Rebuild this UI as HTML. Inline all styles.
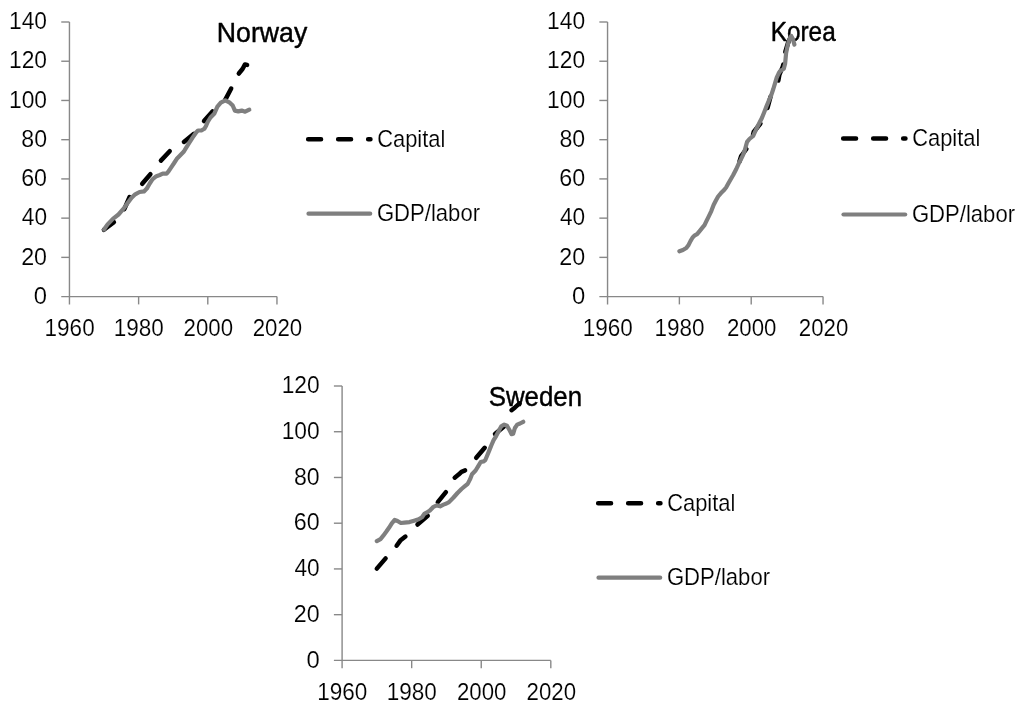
<!DOCTYPE html><html><head><meta charset="utf-8"><style>html,body{margin:0;padding:0;background:#fff;}svg{display:block;filter:grayscale(1)}</style></head><body>
<svg width="1024" height="706" viewBox="0 0 1024 706">
<rect width="1024" height="706" fill="#fff"/>
<g stroke="#888888" stroke-width="1.4" fill="none" stroke-linecap="butt">
<path d="M69.45,22.00V304.40"/>
<path d="M61.25,296.60H276.96"/>
<path d="M61.25,257.37H69.45"/>
<path d="M61.25,218.14H69.45"/>
<path d="M61.25,178.91H69.45"/>
<path d="M61.25,139.69H69.45"/>
<path d="M61.25,100.46H69.45"/>
<path d="M61.25,61.23H69.45"/>
<path d="M61.25,22.00H69.45"/>
<path d="M138.62,296.60V304.40"/>
<path d="M207.79,296.60V304.40"/>
<path d="M276.96,296.60V304.40"/>
</g>
<g font-family='"Liberation Sans", sans-serif' stroke="#fff" stroke-width="0.15" stroke-linejoin="round">
<text x="33.82" y="303.80" font-size="23.20" fill="#000000" textLength="13.26" lengthAdjust="spacingAndGlyphs">0</text>
<text x="21.18" y="264.57" font-size="23.20" fill="#000000" textLength="25.88" lengthAdjust="spacingAndGlyphs">20</text>
<text x="21.83" y="225.34" font-size="23.20" fill="#000000" textLength="25.21" lengthAdjust="spacingAndGlyphs">40</text>
<text x="21.17" y="186.11" font-size="23.20" fill="#000000" textLength="25.89" lengthAdjust="spacingAndGlyphs">60</text>
<text x="21.35" y="146.89" font-size="23.20" fill="#000000" textLength="25.71" lengthAdjust="spacingAndGlyphs">80</text>
<text x="9.01" y="107.66" font-size="23.20" fill="#000000" textLength="38.03" lengthAdjust="spacingAndGlyphs">100</text>
<text x="9.01" y="68.43" font-size="23.20" fill="#000000" textLength="38.03" lengthAdjust="spacingAndGlyphs">120</text>
<text x="9.01" y="29.20" font-size="23.20" fill="#000000" textLength="38.03" lengthAdjust="spacingAndGlyphs">140</text>
<text x="44.58" y="335.90" font-size="23.20" fill="#000000" textLength="50.09" lengthAdjust="spacingAndGlyphs">1960</text>
<text x="113.75" y="335.90" font-size="23.20" fill="#000000" textLength="50.09" lengthAdjust="spacingAndGlyphs">1980</text>
<text x="183.52" y="335.90" font-size="23.20" fill="#000000" textLength="49.49" lengthAdjust="spacingAndGlyphs">2000</text>
<text x="252.69" y="335.90" font-size="23.20" fill="#000000" textLength="49.49" lengthAdjust="spacingAndGlyphs">2020</text>
<text x="216.81" y="41.60" font-size="28.10" fill="#000" textLength="90.44" lengthAdjust="spacingAndGlyphs" stroke="#000" stroke-width="0.45">Norway</text>
<path d="M308.15,139.30H370.45" stroke="#000" stroke-width="4.5" stroke-linecap="round" stroke-dasharray="12.9 17.1" fill="none"/>
<path d="M308.50,213.70H370.20" stroke="#7f7f7f" stroke-width="4.2" stroke-linecap="round" fill="none"/>
<text x="377.19" y="146.60" font-size="23.90" fill="#000000" textLength="68.18" lengthAdjust="spacingAndGlyphs">Capital</text>
<text x="376.89" y="220.90" font-size="23.90" fill="#000000" textLength="103.18" lengthAdjust="spacingAndGlyphs">GDP/labor</text>
</g>
<g stroke="#000" stroke-width="4.5" stroke-linecap="round" stroke-linejoin="round" fill="none">
<polyline points="103.9,229.8 113.9,222.2"/>
<polyline points="124.3,209.2 129.6,197.0"/>
<polyline points="142.2,183.8 150.4,174.2"/>
<polyline points="160.9,160.6 169.7,151.2"/>
<polyline points="183.9,141.9 193.9,133.8"/>
<polyline points="204.0,121.1 212.5,111.4"/>
<polyline points="225.2,99.9 231.2,88.5"/>
<polyline points="238.8,73.5 242.5,69.0 245.0,64.4 247.1,64.9"/>
</g>
<polyline points="104.0,229.5 107.6,224.4 112.9,218.9 118.5,214.5 123.8,208.4 127.8,202.8 131.6,197.7 135.2,194.3 139.5,192.0 144.0,191.4 146.8,188.6 149.7,183.5 152.4,179.3 156.4,176.2 159.8,175.0 162.7,173.7 166.6,173.7 168.7,171.1 171.2,167.3 173.8,163.5 176.8,158.8 179.3,156.3 183.9,151.5 185.6,148.7 188.4,144.2 192.4,137.9 196.3,132.2 198.0,130.5 201.4,130.5 204.3,128.8 206.0,126.0 207.7,122.0 210.5,117.5 214.2,113.8 217.4,106.6 220.8,102.7 225.3,100.4 229.8,102.7 232.7,105.5 234.9,110.6 238.3,111.4 241.7,110.6 245.1,111.7 249.3,109.6" stroke="#7f7f7f" stroke-width="4.2" stroke-linecap="round" stroke-linejoin="round" fill="none"/>
<g stroke="#888888" stroke-width="1.4" fill="none" stroke-linecap="butt">
<path d="M607.55,22.00V304.40"/>
<path d="M599.35,296.60H823.04"/>
<path d="M599.35,257.37H607.55"/>
<path d="M599.35,218.14H607.55"/>
<path d="M599.35,178.91H607.55"/>
<path d="M599.35,139.69H607.55"/>
<path d="M599.35,100.46H607.55"/>
<path d="M599.35,61.23H607.55"/>
<path d="M599.35,22.00H607.55"/>
<path d="M679.38,296.60V304.40"/>
<path d="M751.21,296.60V304.40"/>
<path d="M823.04,296.60V304.40"/>
</g>
<g font-family='"Liberation Sans", sans-serif' stroke="#fff" stroke-width="0.15" stroke-linejoin="round">
<text x="571.92" y="303.80" font-size="23.20" fill="#000000" textLength="13.26" lengthAdjust="spacingAndGlyphs">0</text>
<text x="559.28" y="264.57" font-size="23.20" fill="#000000" textLength="25.88" lengthAdjust="spacingAndGlyphs">20</text>
<text x="559.93" y="225.34" font-size="23.20" fill="#000000" textLength="25.21" lengthAdjust="spacingAndGlyphs">40</text>
<text x="559.27" y="186.11" font-size="23.20" fill="#000000" textLength="25.89" lengthAdjust="spacingAndGlyphs">60</text>
<text x="559.45" y="146.89" font-size="23.20" fill="#000000" textLength="25.71" lengthAdjust="spacingAndGlyphs">80</text>
<text x="547.11" y="107.66" font-size="23.20" fill="#000000" textLength="38.03" lengthAdjust="spacingAndGlyphs">100</text>
<text x="547.11" y="68.43" font-size="23.20" fill="#000000" textLength="38.03" lengthAdjust="spacingAndGlyphs">120</text>
<text x="547.11" y="29.20" font-size="23.20" fill="#000000" textLength="38.03" lengthAdjust="spacingAndGlyphs">140</text>
<text x="582.68" y="335.90" font-size="23.20" fill="#000000" textLength="50.09" lengthAdjust="spacingAndGlyphs">1960</text>
<text x="654.51" y="335.90" font-size="23.20" fill="#000000" textLength="50.09" lengthAdjust="spacingAndGlyphs">1980</text>
<text x="726.94" y="335.90" font-size="23.20" fill="#000000" textLength="49.49" lengthAdjust="spacingAndGlyphs">2000</text>
<text x="798.77" y="335.90" font-size="23.20" fill="#000000" textLength="49.49" lengthAdjust="spacingAndGlyphs">2020</text>
<text x="770.70" y="41.40" font-size="28.10" fill="#000" textLength="65.00" lengthAdjust="spacingAndGlyphs" stroke="#000" stroke-width="0.45">Korea</text>
<path d="M843.15,138.50H905.45" stroke="#000" stroke-width="4.5" stroke-linecap="round" stroke-dasharray="12.9 17.1" fill="none"/>
<path d="M843.50,214.50H905.20" stroke="#7f7f7f" stroke-width="4.2" stroke-linecap="round" fill="none"/>
<text x="912.19" y="145.80" font-size="23.90" fill="#000000" textLength="68.18" lengthAdjust="spacingAndGlyphs">Capital</text>
<text x="911.89" y="221.70" font-size="23.90" fill="#000000" textLength="103.18" lengthAdjust="spacingAndGlyphs">GDP/labor</text>
</g>
<g stroke="#000" stroke-width="4.5" stroke-linecap="round" stroke-linejoin="round" fill="none">
<polyline points="739.5,161.5 741.2,156.0 746.4,149.0"/>
<polyline points="753.0,134.5 753.7,132.0 760.4,123.5"/>
<polyline points="767.5,108.0 770.6,96.5"/>
<polyline points="778.3,80.5 779.3,75.0 782.8,66.5 783.3,64.5"/>
<polyline points="785.3,52.0 788.0,43.0 789.5,39.5"/>
</g>
<polyline points="679.4,251.3 682.9,250.0 686.3,248.0 688.6,244.9 690.6,240.9 692.6,237.5 694.8,235.3 697.1,234.1 699.4,231.3 702.2,227.9 704.5,225.1 706.4,221.1 708.4,217.1 711.3,211.1 713.6,205.0 715.9,200.5 718.1,196.5 721.0,193.1 723.8,190.3 726.1,187.5 728.3,183.5 730.6,179.5 733.2,175.0 736.3,169.0 738.6,163.9 740.9,159.4 743.1,154.8 744.8,150.3 746.0,145.8 747.1,141.8 749.4,139.0 753.2,135.8 756.3,129.0 759.2,123.3 762.0,117.7 764.3,112.0 766.5,106.3 768.8,100.7 771.1,95.6 773.3,89.0 775.0,83.3 776.7,77.7 778.6,73.5 780.2,71.0 783.8,68.7 785.1,63.8 786.1,53.1 787.8,44.6 789.5,39.0 791.2,35.9 792.9,39.0 794.4,44.6" stroke="#7f7f7f" stroke-width="4.2" stroke-linecap="round" stroke-linejoin="round" fill="none"/>
<g stroke="#888888" stroke-width="1.4" fill="none" stroke-linecap="butt">
<path d="M342.10,386.00V668.20"/>
<path d="M333.90,660.40H550.81"/>
<path d="M333.90,614.67H342.10"/>
<path d="M333.90,568.93H342.10"/>
<path d="M333.90,523.20H342.10"/>
<path d="M333.90,477.47H342.10"/>
<path d="M333.90,431.73H342.10"/>
<path d="M333.90,386.00H342.10"/>
<path d="M411.67,660.40V668.20"/>
<path d="M481.24,660.40V668.20"/>
<path d="M550.81,660.40V668.20"/>
</g>
<g font-family='"Liberation Sans", sans-serif' stroke="#fff" stroke-width="0.15" stroke-linejoin="round">
<text x="306.47" y="667.60" font-size="23.20" fill="#000000" textLength="13.26" lengthAdjust="spacingAndGlyphs">0</text>
<text x="293.83" y="621.87" font-size="23.20" fill="#000000" textLength="25.88" lengthAdjust="spacingAndGlyphs">20</text>
<text x="294.48" y="576.13" font-size="23.20" fill="#000000" textLength="25.21" lengthAdjust="spacingAndGlyphs">40</text>
<text x="293.82" y="530.40" font-size="23.20" fill="#000000" textLength="25.89" lengthAdjust="spacingAndGlyphs">60</text>
<text x="294.00" y="484.67" font-size="23.20" fill="#000000" textLength="25.71" lengthAdjust="spacingAndGlyphs">80</text>
<text x="281.66" y="438.93" font-size="23.20" fill="#000000" textLength="38.03" lengthAdjust="spacingAndGlyphs">100</text>
<text x="281.66" y="393.20" font-size="23.20" fill="#000000" textLength="38.03" lengthAdjust="spacingAndGlyphs">120</text>
<text x="317.23" y="699.70" font-size="23.20" fill="#000000" textLength="50.09" lengthAdjust="spacingAndGlyphs">1960</text>
<text x="386.80" y="699.70" font-size="23.20" fill="#000000" textLength="50.09" lengthAdjust="spacingAndGlyphs">1980</text>
<text x="456.97" y="699.70" font-size="23.20" fill="#000000" textLength="49.49" lengthAdjust="spacingAndGlyphs">2000</text>
<text x="526.54" y="699.70" font-size="23.20" fill="#000000" textLength="49.49" lengthAdjust="spacingAndGlyphs">2020</text>
<text x="488.73" y="405.60" font-size="28.10" fill="#000" textLength="93.35" lengthAdjust="spacingAndGlyphs" stroke="#000" stroke-width="0.45">Sweden</text>
<path d="M598.15,503.30H660.45" stroke="#000" stroke-width="4.5" stroke-linecap="round" stroke-dasharray="12.9 17.1" fill="none"/>
<path d="M598.50,577.70H660.20" stroke="#7f7f7f" stroke-width="4.2" stroke-linecap="round" fill="none"/>
<text x="667.19" y="510.60" font-size="23.90" fill="#000000" textLength="68.18" lengthAdjust="spacingAndGlyphs">Capital</text>
<text x="666.89" y="584.90" font-size="23.90" fill="#000000" textLength="103.18" lengthAdjust="spacingAndGlyphs">GDP/labor</text>
</g>
<g stroke="#000" stroke-width="4.5" stroke-linecap="round" stroke-linejoin="round" fill="none">
<polyline points="376.8,568.6 385.6,558.4"/>
<polyline points="396.6,545.7 400.3,540.6 405.4,536.6"/>
<polyline points="417.5,524.5 427.7,515.7"/>
<polyline points="437.8,502.1 445.9,492.2"/>
<polyline points="454.7,477.7 458.6,474.6 461.5,471.8 465.1,470.4"/>
<polyline points="476.2,457.8 484.7,447.8"/>
<polyline points="495.0,434.0 504.9,425.7"/>
<polyline points="511.5,410.2 515.0,407.4 519.5,403.4"/>
</g>
<polyline points="376.8,541.1 380.5,539.1 383.3,535.7 386.2,531.8 389.0,527.8 391.8,523.3 394.7,519.9 397.5,521.0 400.9,523.0 404.3,522.6 409.5,522.1 414.1,520.7 418.6,519.3 422.0,517.3 424.3,513.9 426.5,512.7 429.9,510.5 433.5,506.8 436.7,505.4 440.1,506.3 443.5,504.6 446.5,503.5 449.0,502.1 453.5,497.5 457.5,493.0 461.5,489.0 464.9,486.2 467.7,483.9 470.0,479.4 472.0,474.3 475.6,470.5 478.4,465.9 480.7,462.0 483.5,461.4 485.2,460.3 486.9,456.3 489.2,450.6 491.5,445.0 493.6,440.2 496.0,436.3 499.1,430.3 501.3,426.3 504.2,424.6 507.0,425.7 509.3,429.7 511.5,434.2 513.2,433.7 514.9,428.0 517.2,424.6 520.0,423.5 523.2,421.8" stroke="#7f7f7f" stroke-width="4.2" stroke-linecap="round" stroke-linejoin="round" fill="none"/>
</svg></body></html>
